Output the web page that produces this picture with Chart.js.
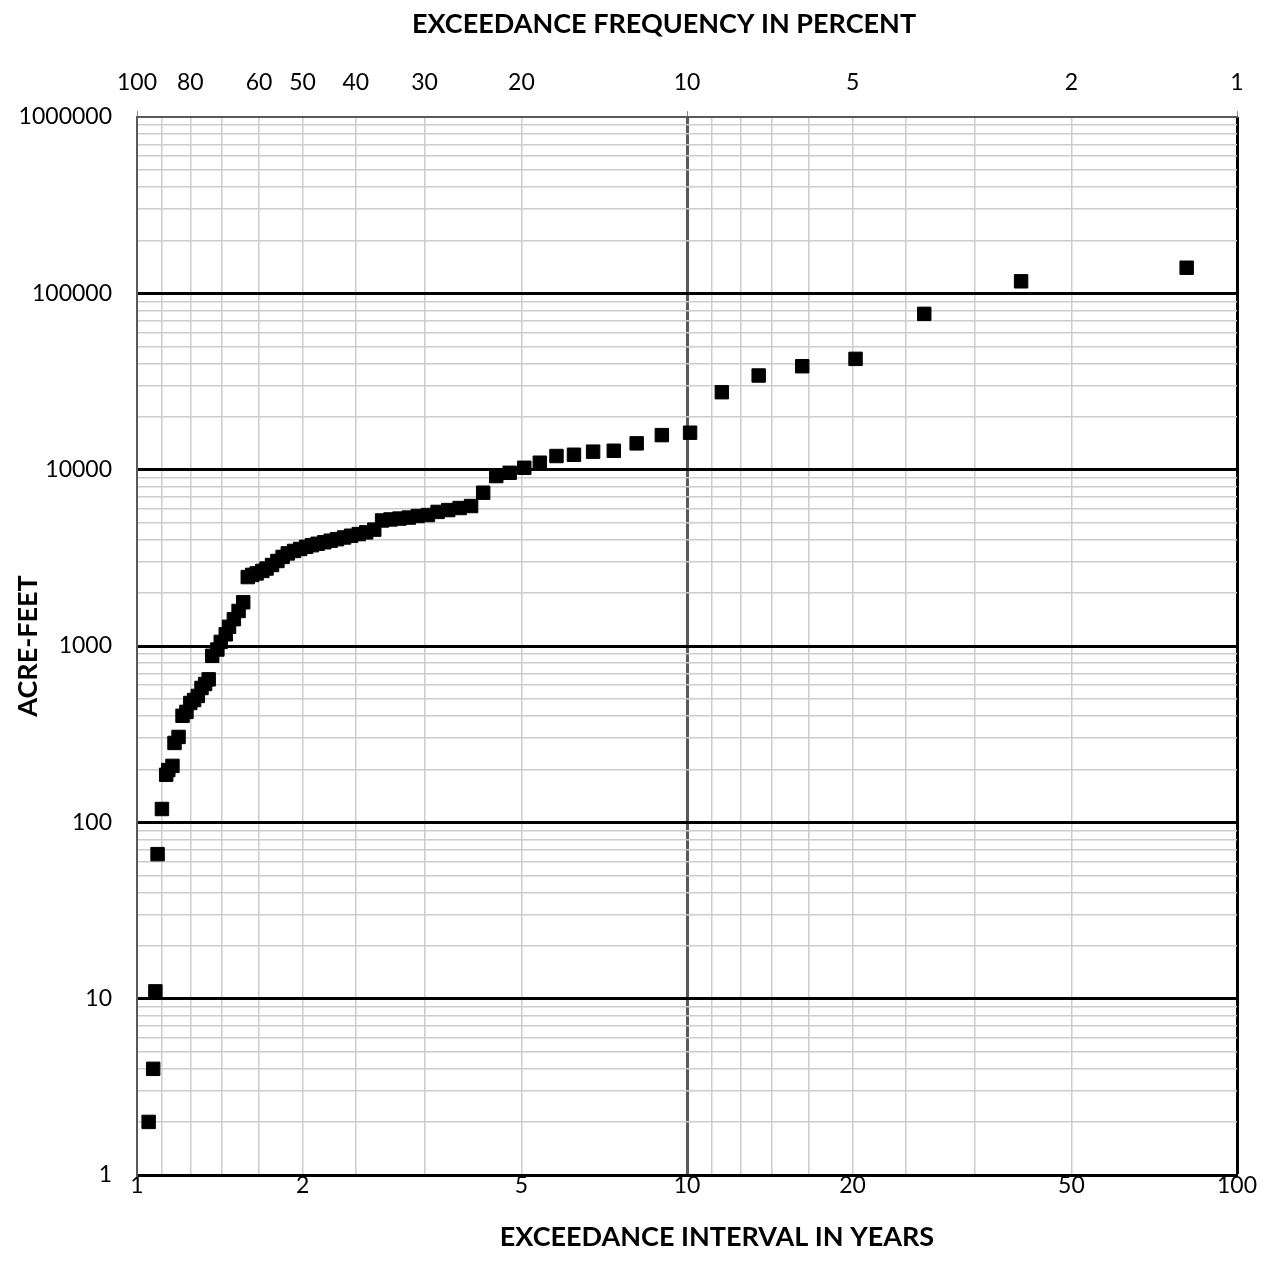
<!DOCTYPE html>
<html>
<head>
<meta charset="utf-8">
<script src="https://cdn.jsdelivr.net/npm/chart.js@4.4.1/dist/chart.umd.min.js"></script>
<style>
  html, body { margin: 0; padding: 0; background: #fff; }
  #wrap { width: 1271px; height: 1280px; }
</style>
</head>
<body>
<div id="wrap"><canvas id="chart"></canvas></div>
<script>
// exceedance interval (years) and volume (acre-feet), ranked largest first
const INTERVAL_YEARS = [
  81, 40.5, 27, 20.25, 16.2, 13.5, 11.57, 10.13, 9, 8.1,
  7.36, 6.75, 6.23, 5.79, 5.4, 5.06, 4.76, 4.5, 4.26, 4.05,
  3.86, 3.68, 3.52, 3.38, 3.24, 3.12, 3, 2.89, 2.79, 2.7,
  2.61, 2.53, 2.45, 2.38, 2.31, 2.25, 2.19, 2.13, 2.08, 2.03,
  1.98, 1.93, 1.88, 1.84, 1.8, 1.76, 1.72, 1.69, 1.65, 1.62,
  1.59, 1.56, 1.53, 1.5, 1.47, 1.45, 1.42, 1.4, 1.37, 1.35,
  1.33, 1.31, 1.29, 1.27, 1.25, 1.23, 1.21, 1.19, 1.17, 1.16,
  1.14, 1.13, 1.11, 1.09, 1.08, 1.07, 1.05
];
const ACRE_FEET = [
  139700, 117000, 76500, 42500, 38600, 34200, 27500, 16200, 15700, 14100,
  12800, 12650, 12150, 11950, 10950, 10250, 9600, 9200, 7400, 6220,
  6060, 5900, 5760, 5530, 5460, 5350, 5280, 5220, 5150, 4570,
  4410, 4310, 4220, 4125, 4035, 3955, 3875, 3800, 3730, 3650,
  3550, 3460, 3350, 3200, 3035, 2880, 2750, 2665, 2580, 2530,
  2460, 1770, 1580, 1420, 1285, 1165, 1055, 955, 880, 647,
  609, 578, 521, 494, 475, 423, 402, 305, 282, 209,
  198, 186, 119, 66, 11, 4, 2
];

const PERCENT_GRID = [100, 90, 80, 70, 60, 50, 40, 30, 20, 10, 9, 8, 7, 6, 5, 4, 3, 2, 1];
const PERCENT_LABELS = [100, 80, 60, 50, 40, 30, 20, 10, 5, 2, 1];
const YEAR_LABELS = [1, 2, 5, 10, 20, 50, 100];
const Y_DECADES = [1, 10, 100, 1000, 10000, 100000, 1000000];

const TOP_TITLE = "EXCEEDANCE FREQUENCY IN PERCENT";
const BOTTOM_TITLE = "EXCEEDANCE INTERVAL IN YEARS";
const Y_TITLE = "ACRE-FEET";

const FONT = "Lato, 'Open Sans', sans-serif";

function near(a, b) {
  return Math.abs(a - b) / b < 1e-6;
}

function inList(list, v) {
  return list.some((x) => near(x, v));
}

function yearGridTicks() {
  return PERCENT_GRID.map((p) => ({ value: 100 / p }));
}

function yGridTicks() {
  const ticks = [];
  for (let i = 0; i < Y_DECADES.length - 1; i++) {
    for (let k = 1; k <= 9; k++) ticks.push({ value: Y_DECADES[i] * k });
  }
  ticks.push({ value: Y_DECADES[Y_DECADES.length - 1] });
  return ticks;
}

const points = INTERVAL_YEARS.map((x, i) => ({ x: x, y: ACRE_FEET[i] }));

// the two horizontal titles are not centred on the plot in the original
const axisTitles = {
  id: "axisTitles",
  afterDraw(chart) {
    const { ctx, chartArea } = chart;
    ctx.save();
    ctx.font = "bold 27px " + FONT;
    ctx.fillStyle = "#000";
    ctx.textAlign = "center";
    ctx.textBaseline = "middle";
    ctx.fillText(TOP_TITLE, chartArea.left + 527, 24);
    ctx.fillText(BOTTOM_TITLE, chartArea.left + 580, 1237);
    ctx.restore();
  },
};

const ctx = document.getElementById("chart").getContext("2d");
new Chart(ctx, {
  type: "scatter",
  data: {
    datasets: [
      {
        data: points,
        pointStyle: "rect",
        pointRadius: 9.5,
        pointBackgroundColor: "#000",
        pointBorderColor: "#000",
        pointBorderWidth: 1,
        xAxisID: "x",
        yAxisID: "y",
      },
    ],
  },
  plugins: [axisTitles],
  options: {
    responsive: true,
    maintainAspectRatio: false,
    animation: false,
    layout: { padding: { left: 0, right: 34, top: 0, bottom: 0 } },
    plugins: {
      legend: { display: false },
      tooltip: { enabled: false },
    },
    scales: {
      x: {
        type: "logarithmic",
        position: "bottom",
        min: 1,
        max: 100,
        afterBuildTicks: (scale) => {
          scale.ticks = yearGridTicks();
        },
        afterFit: (scale) => {
          scale.height = 105;
        },
        ticks: {
          autoSkip: false,
          maxRotation: 0,
          padding: -3,
          color: "#000",
          font: { family: FONT, size: 23 },
          callback: (v) => {
            const hit = YEAR_LABELS.find((t) => near(t, v));
            return hit ? String(hit) : "";
          },
        },
        grid: {
          drawTicks: false,
          color: (c) => {
            const v = c.tick.value;
            if (near(v, 100)) return "#000";
            if (near(v, 10) || near(v, 1)) return "#595959";
            return "#cccccc";
          },
          lineWidth: (c) => {
            const v = c.tick.value;
            if (near(v, 100) || near(v, 10)) return 3;
            if (near(v, 1)) return 2;
            return 1.5;
          },
        },
        border: { display: true, color: "#000", width: 3 },
      },
      x2: {
        type: "logarithmic",
        position: "top",
        min: 1,
        max: 100,
        afterBuildTicks: (scale) => {
          scale.ticks = yearGridTicks();
        },
        afterFit: (scale) => {
          scale.height = 117;
        },
        ticks: {
          autoSkip: false,
          maxRotation: 0,
          padding: 15,
          color: "#000",
          font: { family: FONT, size: 23 },
          callback: (v) => {
            const p = 100 / v;
            const hit = PERCENT_LABELS.find((t) => near(t, p));
            return hit ? String(hit) : "";
          },
        },
        grid: {
          drawOnChartArea: false,
          drawTicks: true,
          tickLength: 6,
          tickColor: (c) => {
            const v = c.tick.value;
            return near(v, 1) || near(v, 10) || near(v, 100) ? "#8c8c8c" : "rgba(0,0,0,0)";
          },
        },
        border: { display: true, color: "#595959", width: 2 },
      },
      y: {
        type: "logarithmic",
        position: "left",
        min: 1,
        max: 1000000,
        afterBuildTicks: (scale) => {
          scale.ticks = yGridTicks();
        },
        afterFit: (scale) => {
          scale.width = 137;
        },
        ticks: {
          autoSkip: false,
          padding: 25,
          color: "#000",
          font: { family: FONT, size: 23 },
          callback: (v) => (inList(Y_DECADES, v) ? String(Math.round(v)) : ""),
        },
        title: {
          display: true,
          text: Y_TITLE,
          color: "#000",
          font: { family: FONT, size: 27, weight: "bold" },
          padding: { top: 12, bottom: 0 },
        },
        grid: {
          drawTicks: false,
          color: (c) => {
            const v = c.tick.value;
            if (near(v, 1000000)) return "#595959";
            if (inList(Y_DECADES, v)) return "#000";
            return "#cccccc";
          },
          lineWidth: (c) => {
            const v = c.tick.value;
            if (near(v, 1000000)) return 2;
            if (inList(Y_DECADES, v)) return 3;
            return 1.5;
          },
        },
        border: { display: true, color: "#595959", width: 2 },
      },
    },
  },
});
</script>
</body>
</html>
